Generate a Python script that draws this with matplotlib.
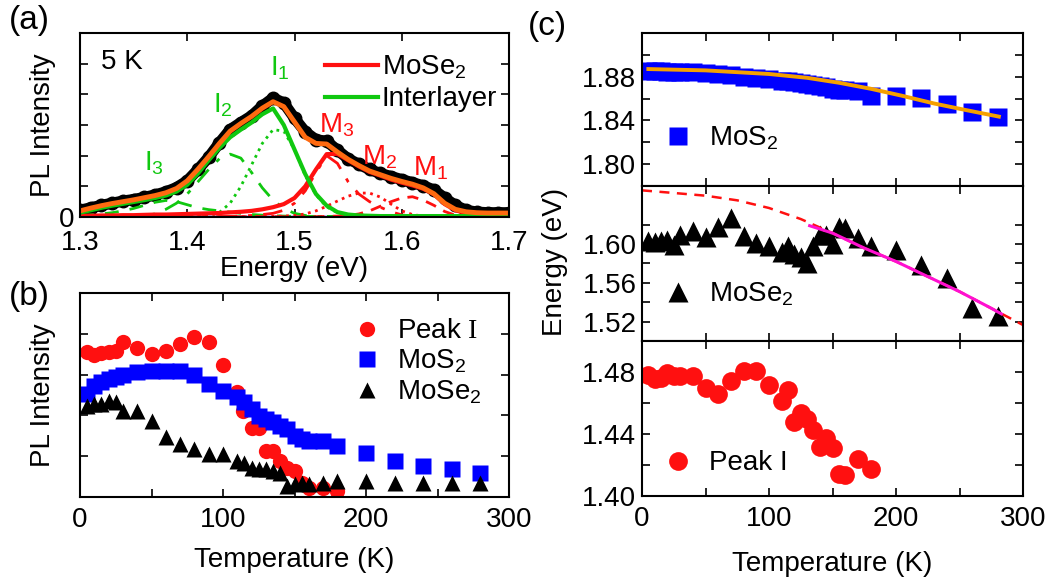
import numpy as np
import matplotlib
matplotlib.use("Agg")
import matplotlib.pyplot as plt

plt.rcParams['font.family'] = ['Liberation Sans', 'DejaVu Sans']
plt.rcParams['font.size'] = 20
plt.rcParams['mathtext.default'] = 'regular'
plt.rcParams['mathtext.fontset'] = 'custom'
plt.rcParams['mathtext.rm'] = 'Liberation Serif'

# ---- panel (a): PL spectrum at 5 K ----
energy = np.linspace(1.30, 1.70, 41)
pl_data = [0.22, 0.30, 0.38, 0.45, 0.52, 0.57, 0.64, 0.72, 0.82, 0.96,
           1.18, 1.55, 1.95, 2.42, 2.85, 3.08, 3.30, 3.62, 3.88, 3.72,
           3.22, 2.78, 2.52, 2.47, 2.18, 1.90, 1.72, 1.55, 1.42, 1.32,
           1.22, 1.12, 1.02, 0.88, 0.62, 0.38, 0.22, 0.16, 0.14, 0.14, 0.14]
pl_fit = [0.20, 0.29, 0.37, 0.44, 0.50, 0.56, 0.63, 0.70, 0.79, 0.93,
          1.18, 1.56, 1.97, 2.40, 2.80, 3.05, 3.28, 3.55, 3.76, 3.60,
          3.10, 2.60, 2.40, 2.38, 2.12, 1.88, 1.68, 1.50, 1.38, 1.26,
          1.16, 1.07, 0.95, 0.76, 0.45, 0.25, 0.17, 0.14, 0.13, 0.13, 0.13]
interlayer = [0.14, 0.22, 0.30, 0.37, 0.43, 0.49, 0.55, 0.62, 0.70, 0.83,
              1.05, 1.42, 1.85, 2.25, 2.60, 2.85, 3.08, 3.35, 3.54, 3.00,
              2.20, 1.40, 0.75, 0.37, 0.16, 0.08, 0.05, 0.04, 0.03, 0.03,
              0.03, 0.03, 0.03, 0.03, 0.03, 0.03, 0.03, 0.03, 0.03, 0.03, 0.03]
mose2 = [0.04, 0.04, 0.05, 0.05, 0.06, 0.06, 0.07, 0.08, 0.08, 0.09,
         0.10, 0.11, 0.12, 0.13, 0.15, 0.17, 0.20, 0.25, 0.32, 0.42,
         0.62, 1.00, 1.55, 2.05, 2.06, 1.85, 1.65, 1.47, 1.35, 1.22,
         1.12, 1.03, 0.92, 0.74, 0.42, 0.22, 0.12, 0.07, 0.05, 0.04, 0.04]
peak_i1 = [0.02, 0.02, 0.02, 0.02, 0.02, 0.02, 0.02, 0.02, 0.02, 0.02,
           0.02, 0.02, 0.05, 0.15, 0.45, 1.00, 1.70, 2.40, 2.85, 2.80,
           2.20, 1.35, 0.72, 0.33, 0.14, 0.05, 0.02, 0.02, 0.02, 0.02,
           0.02, 0.02, 0.02, 0.02, 0.02, 0.02, 0.02, 0.02, 0.02, 0.02, 0.02]
peak_i2 = [0.02, 0.02, 0.02, 0.02, 0.02, 0.02, 0.04, 0.10, 0.25, 0.45,
           0.75, 1.15, 1.55, 1.90, 2.05, 1.92, 1.45, 0.95, 0.55, 0.28,
           0.12, 0.05, 0.02, 0.02, 0.02, 0.02, 0.02, 0.02, 0.02, 0.02,
           0.02, 0.02, 0.02, 0.02, 0.02, 0.02, 0.02, 0.02, 0.02, 0.02, 0.02]
peak_i3 = [0.05, 0.07, 0.10, 0.14, 0.20, 0.28, 0.38, 0.48, 0.54, 0.50,
           0.40, 0.30, 0.24, 0.20, 0.16, 0.12, 0.08, 0.06, 0.04, 0.03,
           0.02, 0.02, 0.02, 0.02, 0.02, 0.02, 0.02, 0.02, 0.02, 0.02,
           0.02, 0.02, 0.02, 0.02, 0.02, 0.02, 0.02, 0.02, 0.02, 0.02, 0.02]
peak_m3 = [0.01, 0.01, 0.01, 0.01, 0.01, 0.01, 0.01, 0.01, 0.01, 0.01,
           0.01, 0.01, 0.01, 0.01, 0.02, 0.03, 0.05, 0.08, 0.12, 0.22,
           0.45, 0.85, 1.45, 2.00, 1.75, 1.15, 0.75, 0.50, 0.32, 0.17,
           0.07, 0.02, 0.01, 0.01, 0.01, 0.01, 0.01, 0.01, 0.01, 0.01, 0.01]
peak_m2 = [0.01, 0.01, 0.01, 0.01, 0.01, 0.01, 0.01, 0.01, 0.01, 0.01,
           0.01, 0.01, 0.01, 0.01, 0.01, 0.01, 0.01, 0.01, 0.02, 0.03,
           0.05, 0.10, 0.20, 0.35, 0.52, 0.68, 0.78, 0.78, 0.65, 0.42,
           0.20, 0.08, 0.03, 0.01, 0.01, 0.01, 0.01, 0.01, 0.01, 0.01, 0.01]
peak_m1 = [0.01, 0.01, 0.01, 0.01, 0.01, 0.01, 0.01, 0.01, 0.01, 0.01,
           0.01, 0.01, 0.01, 0.01, 0.01, 0.01, 0.01, 0.01, 0.01, 0.01,
           0.01, 0.01, 0.01, 0.02, 0.03, 0.05, 0.10, 0.20, 0.35, 0.50,
           0.62, 0.66, 0.55, 0.38, 0.18, 0.06, 0.02, 0.01, 0.01, 0.01, 0.01]

# ---- panel (b): integrated PL intensity vs temperature ----
t_peak = [5, 10, 15, 20, 25, 30, 40, 50, 60, 70, 80, 90, 100, 110, 114,
          120, 125, 130, 135, 140, 145, 150, 155, 160, 170, 180]
int_peak = [3.55, 3.48, 3.52, 3.55, 3.59, 3.81, 3.66, 3.51, 3.59, 3.75, 3.92,
            3.80, 3.24, 2.57, 2.11, 1.68, 1.68, 1.13, 1.13, 0.89, 0.72, 0.64,
            0.35, 0.23, 0.23, 0.15]
t_all = [5, 10, 15, 20, 25, 30, 40, 50, 60, 70, 80, 90, 100, 110, 115, 120,
         125, 130, 135, 140, 145, 150, 155, 160, 170, 180, 200, 220, 240, 260, 280]
int_mos2 = [2.52, 2.73, 2.81, 2.89, 2.93, 2.98, 3.06, 3.10, 3.10, 3.10, 2.98,
            2.77, 2.61, 2.44, 2.32, 2.16, 1.99, 1.91, 1.83, 1.75, 1.66, 1.50,
            1.42, 1.38, 1.38, 1.25, 1.09, 0.89, 0.76, 0.68, 0.60]
int_mose2 = [2.24, 2.28, 2.28, 2.36, 2.32, 2.11, 2.11, 1.87, 1.46, 1.30, 1.17,
             1.05, 1.05, 0.89, 0.84, 0.72, 0.68, 0.68, 0.64, 0.60, 0.27, 0.31,
             0.35, 0.31, 0.35, 0.39, 0.39, 0.35, 0.35, 0.35, 0.35]

# ---- panel (c): peak energies vs temperature ----
e_mos2 = [1.8848, 1.8850, 1.8848, 1.8845, 1.8845, 1.8843, 1.8840, 1.8835,
          1.8825, 1.8815, 1.8800, 1.8790, 1.8780, 1.8765, 1.8760, 1.8752,
          1.8745, 1.8735, 1.8725, 1.8712, 1.8705, 1.8690, 1.8683, 1.8680,
          1.8670, 1.8620, 1.8625, 1.8605, 1.8550, 1.8480, 1.8435]
t_fit_mos2 = [5, 50, 100, 130, 155, 180, 205, 230, 255, 281]
fit_mos2 = [1.8870, 1.8858, 1.8825, 1.8790, 1.8745, 1.8690, 1.8625, 1.8555,
            1.8495, 1.8435]
e_mose2 = [1.6028, 1.6020, 1.6030, 1.6045, 1.5993, 1.6097, 1.6140, 1.6070,
           1.6176, 1.6270, 1.6080, 1.6010, 1.5976, 1.5920, 1.5976, 1.5900,
           1.5870, 1.5800, 1.5976, 1.6097, 1.6090, 1.6000, 1.6180, 1.6166,
           1.6060, 1.5980, 1.5940, 1.5786, 1.5655, 1.5338, 1.5258]
t_fit_mose2 = [0, 25, 50, 75, 100, 125, 150, 175, 200, 225, 250, 275, 300]
fit_mose2 = [1.6555, 1.6528, 1.6500, 1.6452, 1.6373, 1.6259, 1.6114, 1.5959,
             1.5821, 1.5665, 1.5510, 1.5338, 1.5165]
t_fit_mose2_hi = [132, 150, 175, 200, 225, 250, 275, 283]
fit_mose2_hi = [1.6190, 1.6114, 1.5959, 1.5821, 1.5665, 1.5510, 1.5338, 1.5280]
e_peak = [1.4778, 1.4757, 1.4763, 1.4796, 1.4774, 1.4774, 1.4774, 1.4698,
          1.4660, 1.4740, 1.4807, 1.4807, 1.4713, 1.4610, 1.4687, 1.4480,
          1.4535, 1.4500, 1.4426, 1.4317, 1.4372, 1.4307, 1.4139, 1.4133,
          1.4241, 1.4176]
t_peak_c = [5, 10, 15, 20, 25, 30, 40, 50, 60, 70, 80, 90, 100, 110, 115,
            120, 125, 130, 135, 140, 145, 150, 155, 160, 170, 180]

GREEN = '#10c810'
RED = '#ff1010'
ORANGE = '#ff6a10'
BLUE = '#0000ff'

W, H = 1054, 581
fig = plt.figure(figsize=(W / 100, H / 100), dpi=100)


def box(l, t, r, b):
    return [l / W, 1 - b / H, (r - l) / W, (b - t) / H]


def style(ax, xpad=6):
    for s in ax.spines.values():
        s.set_linewidth(1.5)
    ax.tick_params(which='both', direction='in', top=True, right=True,
                   width=1.2, length=6)
    ax.tick_params(axis='x', pad=xpad)
    ax.tick_params(axis='y', pad=4)


# (a)
ax_a = fig.add_axes(box(80, 33, 509, 217))
ax_a.plot(energy, pl_data, '-o', color='black', lw=8, ms=9, zorder=1)
ax_a.plot(energy, peak_i3, '--', color=GREEN, lw=2, dashes=(5, 4))
ax_a.plot(energy, peak_i2, '-.', color=GREEN, lw=2, dashes=(6, 4, 1.5, 4))
ax_a.plot(energy, peak_i1, ':', color=GREEN, lw=2)
ax_a.plot(energy, peak_m3, '-.', color=RED, lw=2, dashes=(7, 4, 1.5, 4))
ax_a.plot(energy, peak_m2, ':', color=RED, lw=2)
ax_a.plot(energy, peak_m1, '--', color=RED, lw=2, dashes=(4, 3))
ax_a.axhline(0.0, color=BLUE, lw=2.5, zorder=0.5)
ax_a.plot(energy, mose2, color=RED, lw=3, label='MoSe$_2$')
ax_a.plot(energy, interlayer, color=GREEN, lw=3, label='Interlayer')
ax_a.plot(energy, pl_fit, color=ORANGE, lw=3.5)
ax_a.set_xlim(1.3, 1.7)
ax_a.set_ylim(0, 6)
ax_a.set_xticks([1.3, 1.4, 1.5, 1.6, 1.7])
ax_a.set_yticks([0, 1, 2, 3, 4, 5])
ax_a.set_yticklabels(['0', '', '', '', '', ''])
ax_a.set_xlabel('Energy (eV)', labelpad=0)
ax_a.set_ylabel('PL Intensity')
style(ax_a, xpad=9)
ax_a.yaxis.set_label_coords(-0.056, 0.5)
ax_a.text(0.05, 0.84, '5 K', transform=ax_a.transAxes, va='center')
for txt, x, y, c in [('I$_1$', 1.486, 4.84, GREEN), ('I$_2$', 1.433, 3.64, GREEN),
                     ('I$_3$', 1.369, 1.74, GREEN), ('M$_3$', 1.539, 2.99, RED),
                     ('M$_2$', 1.579, 1.96, RED), ('M$_1$', 1.627, 1.58, RED)]:
    ax_a.text(x, y, txt, color=c, ha='center', va='center')
ax_a.legend(loc='upper left', bbox_to_anchor=(0.545, 0.95), frameon=False,
            handlelength=1.9, handletextpad=0.15, labelspacing=0.2,
            borderaxespad=0)

# (b)
ax_b = fig.add_axes(box(80, 293, 509, 497))
ax_b.plot(t_peak, int_peak, 'o', color=RED, ms=11, mec='none',
          label=r'Peak $\mathrm{I}$')
ax_b.plot(t_all, int_mos2, 's', color=BLUE, ms=12, mec='none', label='MoS$_2$')
ax_b.plot(t_all, int_mose2, '^', color='black', ms=12, mec='none', label='MoSe$_2$')
ax_b.set_xlim(0, 300)
ax_b.set_ylim(0, 5)
ax_b.set_xticks([0, 100, 200, 300])
ax_b.set_xticks([50, 150, 250], minor=True)
ax_b.set_yticks([1, 2, 3, 4])
ax_b.set_yticklabels([])
ax_b.set_xlabel('Temperature (K)', labelpad=10)
ax_b.set_ylabel('PL Intensity')
style(ax_b, xpad=7)
ax_b.yaxis.set_label_coords(-0.056, 0.5)
ax_b.legend(loc='upper left', bbox_to_anchor=(0.61, 0.93), frameon=False,
            handlelength=1.0, handletextpad=0.6, labelspacing=0.12,
            borderaxespad=0)

# (c)
ax_c1 = fig.add_axes(box(642, 33, 1023, 186))
ax_c2 = fig.add_axes(box(642, 186, 1023, 341))
ax_c3 = fig.add_axes(box(642, 341, 1023, 496))

ax_c1.plot(t_all, e_mos2, 's', color=BLUE, ms=13.5, mec='none', label='MoS$_2$')
ax_c1.plot(t_fit_mos2, fit_mos2, color='#f5a000', lw=2.8)
ax_c1.set_ylim(1.78, 1.92)
ax_c1.set_yticks([1.80, 1.84, 1.88])
ax_c1.set_yticks([1.82, 1.86, 1.90], minor=True)

ax_c2.plot(t_all, e_mose2, '^', color='black', ms=15, mec='none', label='MoSe$_2$')
ax_c2.plot(t_fit_mose2, fit_mose2, '--', color=RED, lw=1.8, dashes=(4, 3),
           clip_on=False)
ax_c2.plot(t_fit_mose2_hi, fit_mose2_hi, color='#ff10d0', lw=2.2)
ax_c2.set_ylim(1.50, 1.66)
ax_c2.set_yticks([1.52, 1.56, 1.60])
ax_c2.set_yticks([1.54, 1.58, 1.62], minor=True)

ax_c3.plot(t_peak_c, e_peak, 'o', color=RED, ms=13.5, mec='none', label='Peak I')
ax_c3.set_ylim(1.40, 1.50)
ax_c3.set_yticks([1.40, 1.44, 1.48])
ax_c3.set_yticks([1.42, 1.46], minor=True)
ax_c3.set_xlabel('Temperature (K)', labelpad=14)

for ax, ly in [(ax_c1, 0.31), (ax_c2, 0.30), (ax_c3, 0.21)]:
    ax.set_xlim(0, 300)
    ax.set_xticks([0, 100, 200, 300])
    ax.set_xticks([50, 150, 250], minor=True)
    ax.yaxis.set_major_formatter(plt.FormatStrFormatter('%.2f'))
    style(ax, xpad=7)
    ax.legend(loc='center left', bbox_to_anchor=(0.03, ly), frameon=False,
              handlelength=1.0, handletextpad=0.6, borderaxespad=0)
for ax in (ax_c1, ax_c2):
    ax.tick_params(labelbottom=False)

fig.text(555 / W, 1 - 262 / H, 'Energy (eV)', rotation=90, ha='center', va='center')

fig.text(29 / W, 1 - 20 / H, '(a)', ha='center', va='center', fontsize=24)
fig.text(29 / W, 1 - 296 / H, '(b)', ha='center', va='center', fontsize=24)
fig.text(547 / W, 1 - 27 / H, '(c)', ha='center', va='center', fontsize=24)

fig.savefig('out.png', dpi=100)
